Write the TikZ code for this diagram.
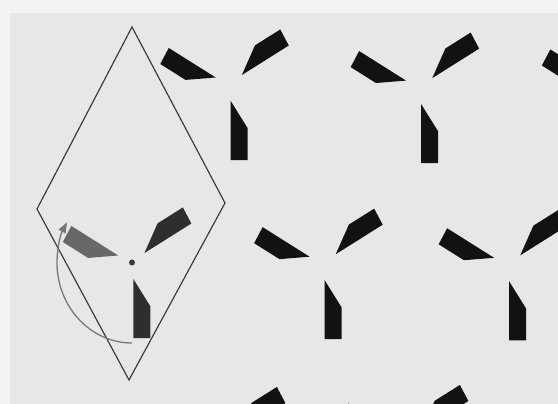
\documentclass[tikz,border=0pt]{standalone}
\usepackage{tikz}
\usetikzlibrary{arrows.meta}
\definecolor{paper}{HTML}{E7E7E7}
\definecolor{margin}{HTML}{F3F3F3}
\definecolor{ink}{HTML}{121212}
\definecolor{darkblade}{HTML}{2E2E2E}
\definecolor{greyblade}{HTML}{686868}
\definecolor{edge}{HTML}{3A3A3A}
\definecolor{turngrey}{HTML}{777777}

\begin{document}
\begin{tikzpicture}[
  x=0.03cm, y=0.03cm,
  blade/.style={fill=ink},
  cell/.style={draw=edge, line width=1pt, line join=miter},
  turn/.style={draw=turngrey, line width=1.1pt, -{Triangle[length=9pt, width=6.5pt]}},
  hub/.style={fill=edge},
  motif/.pic={
    \begin{scope}[yscale=1.09]
      \foreach \r in {0,120,240}
        \fill[blade, rotate=\r] (1.3,-15.1) -- (18.3,-40.1) -- (18.3,-69.3) -- (1.3,-69.3) -- cycle;
    \end{scope}
  }
]
% paper
\useasboundingbox (0,0) rectangle (558,-404);
\fill[margin] (0,0) rectangle (558,-404);
\fill[paper] (10,-13) rectangle (558,-404);
\clip (0,0) rectangle (558,-404);

% motif centres
\coordinate (c1) at (132,-262.5);
\coordinate (t1) at (229.4,-84.5);
\coordinate (t2) at (419.8,-87.6);
\coordinate (t3) at (611,-86);
\coordinate (m2) at (323.3,-263.7);
\coordinate (m3) at (507.8,-264.8);
\coordinate (b1) at (226,-442);
\coordinate (b2) at (409,-440);

% unit cell
\draw[cell] (132,-27) -- (225,-203) -- (129,-380) -- (37,-209) -- cycle;

% the generating motif
\begin{scope}[shift={(c1)}, yscale=1.09]
  \foreach \r/\c in {0/darkblade, 120/darkblade, 240/greyblade}
    \fill[\c, rotate=\r] (1.3,-15.1) -- (18.3,-40.1) -- (18.3,-69.3) -- (1.3,-69.3) -- cycle;
\end{scope}
\fill[hub] (c1) circle[radius=3];
\draw[turn] (c1) ++(0,-80.5) arc[start angle=-90, end angle=-210, x radius=75, y radius=80.5];

% copies
\foreach \p in {t1,t2,t3,m2,m3,b1,b2}
  \pic at (\p) {motif};
\end{tikzpicture}
\end{document}
